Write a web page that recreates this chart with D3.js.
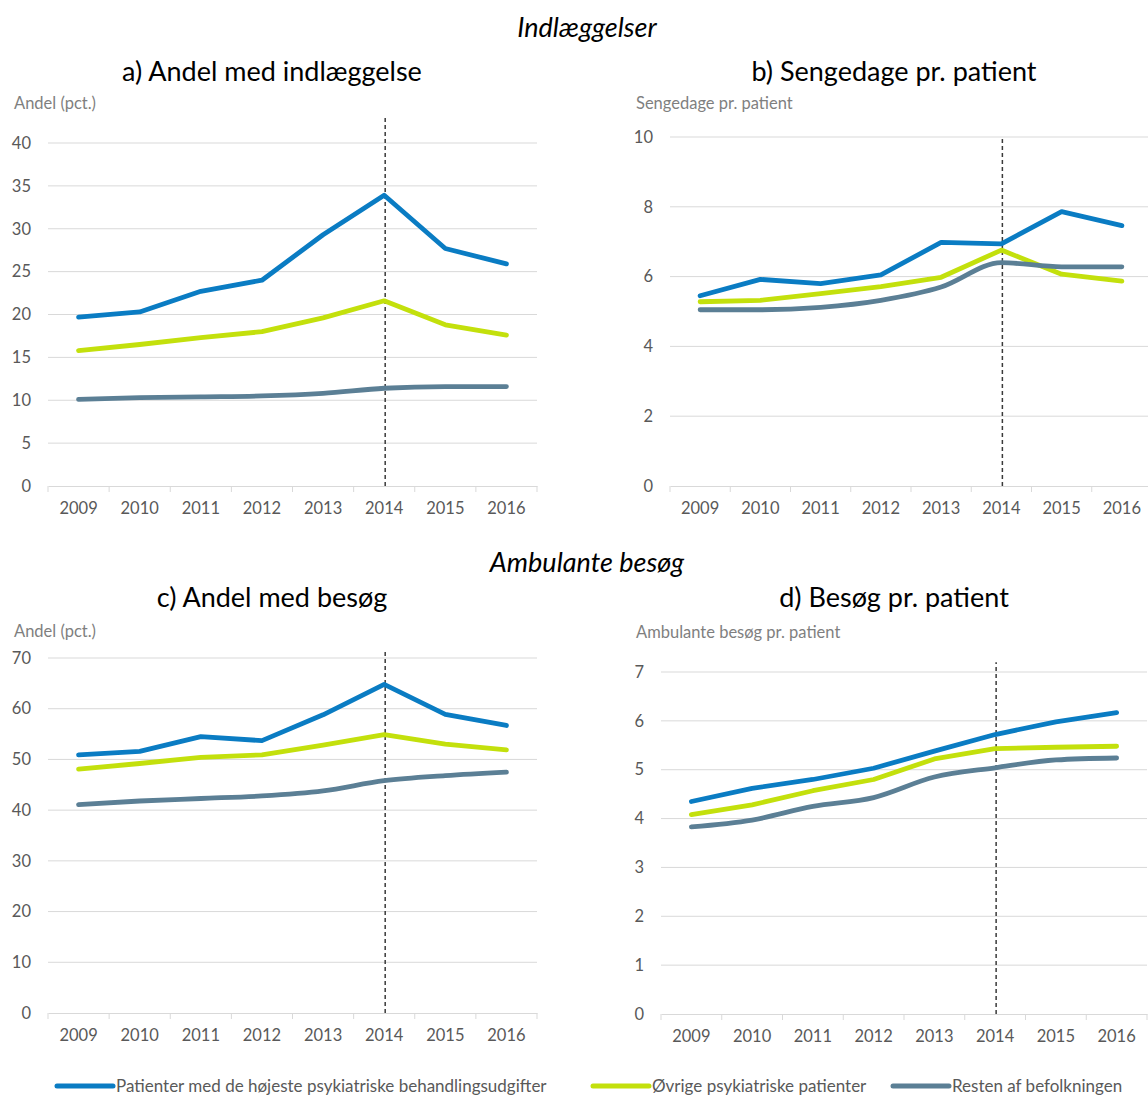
<!DOCTYPE html>
<html>
<head>
<meta charset="utf-8">
<script src="https://cdn.jsdelivr.net/npm/d3@7"></script>
<style>
  body { margin: 0; background: #fff; }
  svg { display: block; font-family: Lato, "Open Sans", sans-serif; }
</style>
</head>
<body>
<div id="chart"></div>
<script>
var svgWidth = 1148;
var svgHeight = 1097;

// data
var years = [2009, 2010, 2011, 2012, 2013, 2014, 2015, 2016];
var seriesNames = [
  "Patienter med de højeste psykiatriske behandlingsudgifter",
  "Øvrige psykiatriske patienter",
  "Resten af befolkningen"
];

// a) Andel med indlæggelse (pct.)
var admShareTop = [19.7, 20.3, 22.7, 24.0, 29.3, 33.9, 27.7, 25.9];
var admShareOther = [15.8, 16.5, 17.3, 18.0, 19.6, 21.6, 18.8, 17.6];
var admShareRest = [10.1, 10.3, 10.4, 10.5, 10.8, 11.4, 11.6, 11.6];

// b) Sengedage pr. patient
var bedDaysTop = [5.45, 5.92, 5.80, 6.05, 6.98, 6.94, 7.86, 7.46];
var bedDaysOther = [5.28, 5.32, 5.51, 5.71, 5.98, 6.76, 6.07, 5.87];
var bedDaysRest = [5.05, 5.05, 5.12, 5.32, 5.70, 6.40, 6.28, 6.28];

// c) Andel med besøg (pct.)
var visShareTop = [50.9, 51.6, 54.5, 53.7, 58.8, 64.8, 58.9, 56.7];
var visShareOther = [48.1, 49.2, 50.4, 50.9, 52.8, 54.9, 53.0, 51.9];
var visShareRest = [41.1, 41.8, 42.3, 42.8, 43.8, 45.8, 46.8, 47.5];

// d) Besøg pr. patient
var visitsTop = [4.35, 4.62, 4.80, 5.03, 5.38, 5.72, 5.98, 6.17];
var visitsOther = [4.08, 4.28, 4.57, 4.80, 5.22, 5.43, 5.46, 5.48];
var visitsRest = [3.83, 3.97, 4.25, 4.43, 4.85, 5.04, 5.20, 5.24];

// tick values
var yTicksA = [0, 5, 10, 15, 20, 25, 30, 35, 40];
var yTicksB = [0, 2, 4, 6, 8, 10];
var yTicksC = [0, 10, 20, 30, 40, 50, 60, 70];
var yTicksD = [0, 1, 2, 3, 4, 5, 6, 7];

// height of the 2014 marker line, in each panel's units
var markerYear = 2014;
var markerTop = [43, 10, 71.4, 7.2];

var colors = ["#0a7cc3", "#c3e00c", "#5b7f95"];

var svg = d3.select("#chart")
  .append("svg")
  .attr("width", svgWidth)
  .attr("height", svgHeight);

// section headings
svg.append("text")
  .attr("x", 587).attr("y", 37)
  .attr("text-anchor", "middle")
  .style("font-style", "italic")
  .style("font-size", "27px")
  .attr("fill", "#000")
  .text("Indlæggelser");

svg.append("text")
  .attr("x", 587).attr("y", 572)
  .attr("text-anchor", "middle")
  .style("font-style", "italic")
  .style("font-size", "27px")
  .attr("fill", "#000")
  .text("Ambulante besøg");

function drawPanel(p) {
  var g = svg.append("g");

  var x = d3.scaleBand()
    .domain(years)
    .range([p.left, p.right]);

  var y = d3.scaleLinear()
    .domain([0, p.ticks[p.ticks.length - 1]])
    .range([p.bottom, p.top]);

  // title
  g.append("text")
    .attr("x", p.titleX).attr("y", p.titleY)
    .attr("text-anchor", "middle")
    .style("font-size", "27px")
    .attr("fill", "#000")
    .text(p.title);

  // unit label
  g.append("text")
    .attr("x", p.unitX).attr("y", p.unitY)
    .style("font-size", "16.5px")
    .attr("fill", "#7f7f7f")
    .text(p.unit);

  // gridlines
  g.selectAll(".grid")
    .data(p.ticks.filter(d => d > 0))
    .enter()
    .append("line")
    .attr("x1", p.left).attr("x2", p.right)
    .attr("y1", d => y(d)).attr("y2", d => y(d))
    .attr("stroke", "#d9d9d9")
    .attr("stroke-width", 1);

  // y axis labels
  var yAxis = d3.axisLeft(y)
    .tickValues(p.ticks)
    .tickFormat(d3.format("d"))
    .tickSize(0)
    .tickPadding(17);

  var yg = g.append("g")
    .attr("transform", `translate(${p.left}, 0)`)
    .call(yAxis);
  yg.select(".domain").remove();
  yg.selectAll("text")
    .style("font-size", "16.5px")
    .style("font-family", "Lato, sans-serif")
    .attr("fill", "#595959");

  // x axis: baseline with ticks between categories
  var xAxis = d3.axisBottom(x)
    .tickSize(0)
    .tickPadding(16);

  var xg = g.append("g")
    .attr("transform", `translate(0, ${p.bottom})`)
    .call(xAxis);
  xg.select(".domain")
    .attr("stroke", "#d9d9d9");
  xg.selectAll("text")
    .style("font-size", "16.5px")
    .style("font-family", "Lato, sans-serif")
    .attr("fill", "#595959");

  var edges = years.map(d => x(d)).concat([p.right]);
  g.selectAll(".xtick")
    .data(edges)
    .enter()
    .append("line")
    .attr("x1", d => d).attr("x2", d => d)
    .attr("y1", p.bottom).attr("y2", p.bottom + 6)
    .attr("stroke", "#d9d9d9");

  // dashed 2014 marker
  var mx = x(markerYear) + x.bandwidth() / 2 + 1;
  g.append("line")
    .attr("x1", mx).attr("x2", mx)
    .attr("y1", y(0)).attr("y2", y(p.marker))
    .attr("stroke", "#3a3a3a")
    .attr("stroke-width", 1.5)
    .attr("stroke-dasharray", "4,3");

  // lines
  p.series.forEach(function(vals, i) {
    var line = d3.line()
      .x((d, j) => x(years[j]) + x.bandwidth() / 2)
      .y(d => y(d))
      .curve(i === 2 ? d3.curveMonotoneX : d3.curveLinear);

    g.append("path")
      .datum(vals)
      .attr("d", line)
      .attr("fill", "none")
      .attr("stroke", colors[i])
      .attr("stroke-width", 4.8)
      .attr("stroke-linejoin", "round")
      .attr("stroke-linecap", "round");
  });
}

drawPanel({
  title: "a) Andel med indlæggelse", titleX: 272, titleY: 81,
  unit: "Andel (pct.)", unitX: 14, unitY: 109,
  left: 48, right: 537, top: 143, bottom: 486,
  ticks: yTicksA, marker: markerTop[0],
  series: [admShareTop, admShareOther, admShareRest]
});

drawPanel({
  title: "b) Sengedage pr. patient", titleX: 894, titleY: 81,
  unit: "Sengedage pr. patient", unitX: 636, unitY: 109,
  left: 670, right: 1152, top: 137, bottom: 486,
  ticks: yTicksB, marker: markerTop[1],
  series: [bedDaysTop, bedDaysOther, bedDaysRest]
});

drawPanel({
  title: "c) Andel med besøg", titleX: 272, titleY: 607,
  unit: "Andel (pct.)", unitX: 14, unitY: 637,
  left: 48, right: 537, top: 658, bottom: 1013,
  ticks: yTicksC, marker: markerTop[2],
  series: [visShareTop, visShareOther, visShareRest]
});

drawPanel({
  title: "d) Besøg pr. patient", titleX: 894, titleY: 607,
  unit: "Ambulante besøg pr. patient", unitX: 636, unitY: 638,
  left: 661, right: 1147, top: 672, bottom: 1014,
  ticks: yTicksD, marker: markerTop[3],
  series: [visitsTop, visitsOther, visitsRest]
});

// legend
var legendX = [57, 593, 893];
var legend = svg.selectAll(".legend")
  .data(seriesNames)
  .enter()
  .append("g")
  .attr("transform", (d, i) => `translate(${legendX[i]}, 1086)`);

legend.append("line")
  .attr("x1", 0).attr("x2", 56)
  .attr("y1", 0).attr("y2", 0)
  .attr("stroke", (d, i) => colors[i])
  .attr("stroke-width", 5)
  .attr("stroke-linecap", "round");

legend.append("text")
  .attr("x", 59).attr("y", 6)
  .style("font-size", "17px")
  .attr("fill", "#595959")
  .text(d => d);
</script>
</body>
</html>
